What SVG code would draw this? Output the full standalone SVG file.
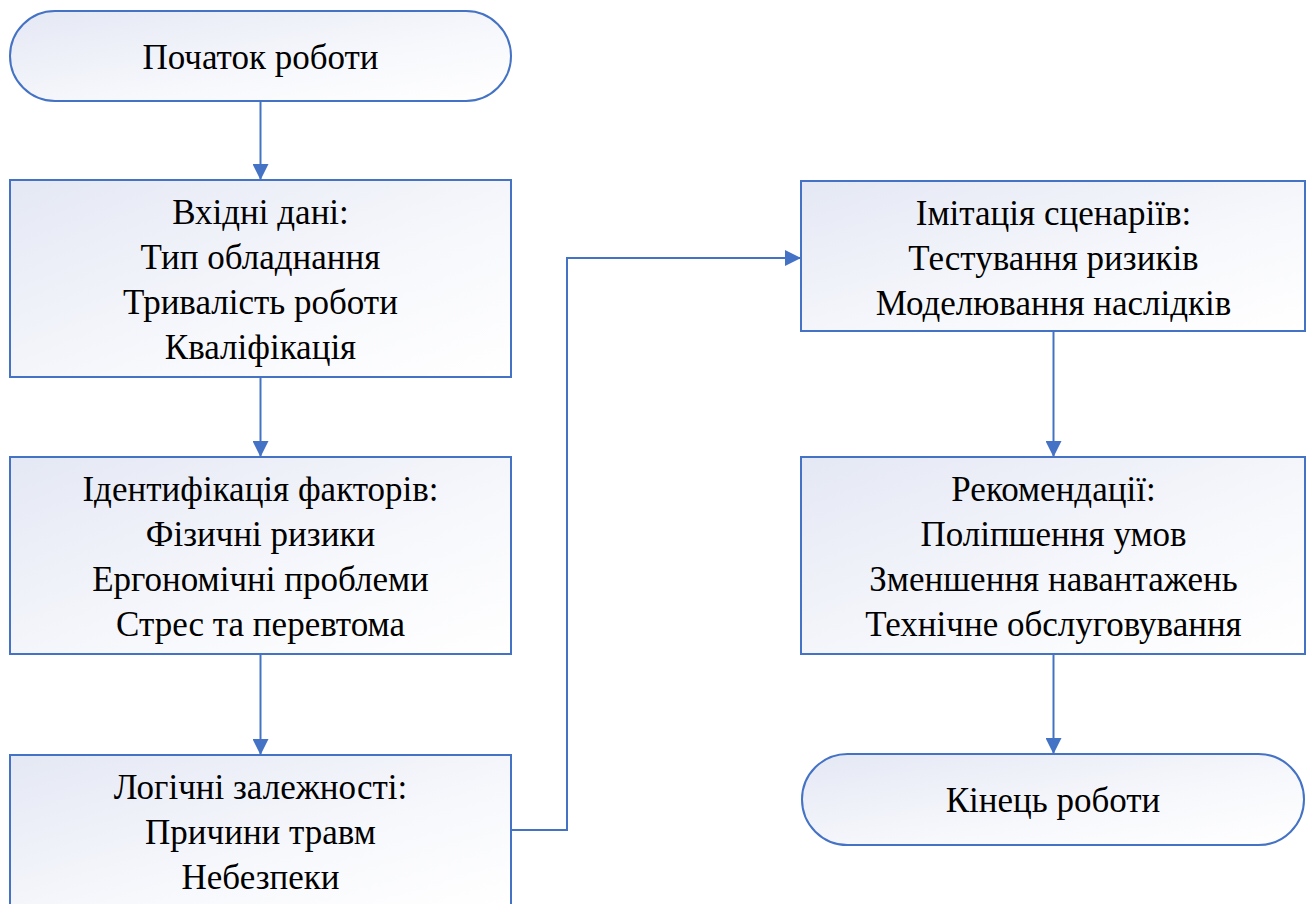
<svg xmlns="http://www.w3.org/2000/svg" width="1307" height="904" viewBox="0 0 1307 904">
  <defs>
    <linearGradient id="fill" x1="0" y1="0" x2="1" y2="1">
      <stop offset="0" stop-color="#e4e8f4"/>
      <stop offset="0.6" stop-color="#f7f8fc"/>
      <stop offset="1" stop-color="#ffffff"/>
    </linearGradient>
    <marker id="arrow" viewBox="0 0 10 10" refX="10" refY="5" markerWidth="16" markerHeight="16" markerUnits="userSpaceOnUse" orient="auto">
      <path d="M0,0 L10,5 L0,10 z" fill="#4472c4"/>
    </marker>
  </defs>
  <style>
    .shape { fill: url(#fill); stroke: #4472c4; stroke-width: 2; }
    .label { font-family: "Liberation Serif", "Times New Roman", serif; font-size: 35px; fill: #000; text-anchor: middle; }
    .conn { fill: none; stroke: #4472c4; stroke-width: 2; marker-end: url(#arrow); }
  </style>
  <rect width="1307" height="904" fill="#ffffff"/>

  <g id="connectors">
    <path class="conn" d="M260.5,101 V180"/>
    <path class="conn" d="M260.5,377 V457"/>
    <path class="conn" d="M260.5,654 V755"/>
    <path class="conn" d="M511,830 H567 V258 H801"/>
    <path class="conn" d="M1053.5,331 V457"/>
    <path class="conn" d="M1053.5,654 V754"/>
  </g>

  <g id="start">
    <rect class="shape" x="10" y="11" width="501" height="90" rx="45" ry="45"/>
    <text class="label" x="260.5" y="69">Початок роботи</text>
  </g>

  <g id="input-data">
    <rect class="shape" x="10" y="180" width="501" height="197"/>
    <text class="label" x="260.5" y="224">Вхідні дані:</text>
    <text class="label" x="260.5" y="269">Тип обладнання</text>
    <text class="label" x="260.5" y="314">Тривалість роботи</text>
    <text class="label" x="260.5" y="359">Кваліфікація</text>
  </g>

  <g id="factors">
    <rect class="shape" x="10" y="457" width="501" height="197"/>
    <text class="label" x="260.5" y="501">Ідентифікація факторів:</text>
    <text class="label" x="260.5" y="546">Фізичні ризики</text>
    <text class="label" x="260.5" y="591">Ергономічні проблеми</text>
    <text class="label" x="260.5" y="636">Стрес та перевтома</text>
  </g>

  <g id="dependencies">
    <rect class="shape" x="10" y="755" width="501" height="150"/>
    <text class="label" x="260.5" y="799">Логічні залежності:</text>
    <text class="label" x="260.5" y="844">Причини травм</text>
    <text class="label" x="260.5" y="889">Небезпеки</text>
  </g>

  <g id="simulation">
    <rect class="shape" x="801" y="181" width="504" height="150"/>
    <text class="label" x="1053.5" y="225">Імітація сценаріїв:</text>
    <text class="label" x="1053.5" y="270">Тестування ризиків</text>
    <text class="label" x="1053.5" y="315">Моделювання наслідків</text>
  </g>

  <g id="recommendations">
    <rect class="shape" x="801" y="457" width="504" height="197"/>
    <text class="label" x="1053.5" y="501">Рекомендації:</text>
    <text class="label" x="1053.5" y="546">Поліпшення умов</text>
    <text class="label" x="1053.5" y="591">Зменшення навантажень</text>
    <text class="label" x="1053.5" y="636">Технічне обслуговування</text>
  </g>

  <g id="end">
    <rect class="shape" x="802" y="754" width="502" height="91" rx="45.5" ry="45.5"/>
    <text class="label" x="1053" y="812">Кінець роботи</text>
  </g>
</svg>
